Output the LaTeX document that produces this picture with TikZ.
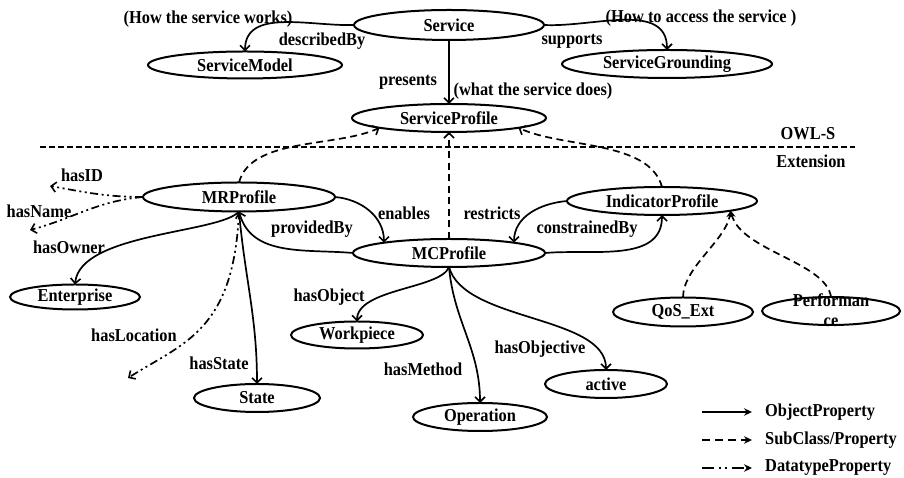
\documentclass[tikz,border=0pt]{standalone}
\usepackage{fontspec}
\setmainfont{Liberation Serif}[FakeStretch=0.9]
\usetikzlibrary{arrows.meta,shapes.geometric,calc}
\begin{document}
\begin{tikzpicture}[x=1pt,y=1pt,
  font=\fontsize{18.2}{21}\selectfont\bfseries,
  ell/.style={ellipse,draw,line width=2pt,inner sep=0pt,outer sep=0pt},
  lbl/.style={inner sep=0pt},
  obj/.style={line width=1.7pt,-{Straight Barb[length=5pt,width=10pt,line width=1.6pt]}},
  sub/.style={obj,dash pattern=on 7pt off 4.5pt},
  subT/.style={line width=1.7pt,dash pattern=on 7pt off 4.5pt,-{Stealth[length=7pt,width=6.5pt]}},
  dat/.style={obj,dash pattern=on 8pt off 3.5pt on 2pt off 3.5pt on 2pt off 3.5pt},
  legS/.style={line width=1.7pt,-{Stealth[length=8pt,width=7.5pt]}},
  legD/.style={legS,dash pattern=on 8pt off 5pt},
  legT/.style={legS,dash pattern=on 12pt off 4.5pt on 2pt off 4.5pt on 2pt off 4.5pt},
]
\useasboundingbox (0,0) rectangle (904,478);
\fill[white] (0,0) rectangle (904,478);

% nodes
\node[ell,minimum width=190pt,minimum height=30pt] (Service) at (449,453) {Service};
\node[ell,minimum width=194pt,minimum height=27pt] (ServiceModel) at (245,413) {ServiceModel};
\node[ell,minimum width=210pt,minimum height=28pt] (ServiceGrounding) at (667,414) {ServiceGrounding};
\node[ell,minimum width=194pt,minimum height=28pt] (ServiceProfile) at (449,360) {ServiceProfile};
\node[ell,minimum width=192pt,minimum height=29pt] (MRProfile) at (239,281) {MRProfile};
\node[ell,minimum width=190pt,minimum height=28pt] (IndicatorProfile) at (662,277) {IndicatorProfile};
\node[ell,minimum width=192pt,minimum height=28pt] (MCProfile) at (449,225) {MCProfile};
\node[ell,minimum width=130pt,minimum height=25pt] (Enterprise) at (75,181) {Enterprise};
\node[ell,minimum width=132pt,minimum height=27pt] (Workpiece) at (357,143) {Workpiece};
\node[ell,minimum width=140pt,minimum height=29pt] (QoS) at (683,166) {QoS\_Ext};
\node[ell,minimum width=138pt,minimum height=28pt] (Performance) at (831,167) {};
\node[lbl,anchor=base] (perfA) at (831,171) {Performan};
\node[lbl,anchor=base] (perfB) at (831,151) {ce};
\node[ell,minimum width=126pt,minimum height=28pt] (State) at (257,80) {State};
\node[ell,minimum width=134pt,minimum height=28pt] (Operation) at (480,61) {Operation};
\node[ell,minimum width=122pt,minimum height=28pt] (active) at (606,94) {active};

% free texts
\node[lbl] (t1) at (208,459) {(How the service works)};
\node[lbl] (t2) at (701,460) {(How to access the service )};
\node[lbl] (t3) at (533,387) {(what the service does)};
\node[lbl] (owl) at (808,344) {OWL-S};
\node[lbl] (ext) at (811,317) {Extension};

% edge labels
\node[lbl] at (322,437) {describedBy};
\node[lbl] at (572,437) {supports};
\node[lbl] at (408,396) {presents};
\node[lbl] at (82,303) {hasID};
\node[lbl] at (39,267) {hasName};
\node[lbl] at (69,231) {hasOwner};
\node[lbl] at (312,249) {providedBy};
\node[lbl] at (404,265) {enables};
\node[lbl] at (492,265) {restricts};
\node[lbl] at (587,249) {constrainedBy};
\node[lbl] at (329,181) {hasObject};
\node[lbl] at (134,143) {hasLocation};
\node[lbl] at (219,115) {hasState};
\node[lbl] at (423,109) {hasMethod};
\node[lbl] at (540,129) {hasObjective};

% separator
\coordinate (sepL) at (40,331);
\coordinate (sepR) at (855,331);
\draw[line width=1.5pt,dash pattern=on 6pt off 3pt] (sepL) -- (sepR);

% OWL-S edges
\draw[obj] (Service.west) to[out=182,in=90] (ServiceModel.north);
\draw[obj] (Service.east) to[out=-3,in=90] (ServiceGrounding.north);
\draw[obj] (Service.south) -- (ServiceProfile.north);

% subclass edges
\draw[sub] (MRProfile.north) to[out=75,in=205,looseness=0.8] (ServiceProfile.188);
\draw[sub] (MCProfile.north) -- (ServiceProfile.south);
\draw[sub] (IndicatorProfile.north) to[out=105,in=-25,looseness=0.8] (ServiceProfile.-8);

% profile relations
\draw[obj] (MRProfile.east) to[out=-5,in=90] (MCProfile.171);
\draw[obj] (MCProfile.west) to[out=175,in=-75] (MRProfile.south);
\draw[obj] (IndicatorProfile.west) to[out=185,in=90] (MCProfile.9);
\draw[obj] (MCProfile.east) to[out=5,in=-90] (IndicatorProfile.south);

% MRProfile properties
\draw[obj] (MRProfile.south) .. controls +(-19,-22) and +(5,52) .. (Enterprise.north);
\draw[obj] (MRProfile.south) to[out=-85,in=90] (State.north);
\coordinate (locEnd) at (128,100);
\draw[dat] (MRProfile.south) .. controls +(-5,-120) and +(55,35) .. (locEnd);
\coordinate (idEnd) at (50,292);
\coordinate (nameEnd) at (30,248);
\draw[dat] (MRProfile.west) to[out=180,in=-10] (idEnd);
\draw[dat] (MRProfile.west) to[out=185,in=15] (nameEnd);

% MCProfile properties
\draw[obj] (MCProfile.south) .. controls +(-8,-22) and +(0,33) .. (Workpiece.north);
\draw[obj] (MCProfile.south) to[out=-85,in=90] (Operation.north);
\draw[obj] (MCProfile.south) .. controls +(15,-55) and +(0,55) .. (active.north);

% indicator subclasses
\draw[subT] (QoS.north) .. controls +(0,30) and +(-5,-30) .. (IndicatorProfile.-8);
\draw[subT] (Performance.north) .. controls +(-5,35) and +(10,-40) .. (IndicatorProfile.-8);

% legend
\coordinate (l1a) at (702,66); \coordinate (l1b) at (752,66);
\coordinate (l2a) at (702,38); \coordinate (l2b) at (752,38);
\coordinate (l3a) at (702,10); \coordinate (l3b) at (752,10);
\draw[legS] (l1a) -- (l1b);
\draw[legD] (l2a) -- (l2b);
\draw[legT] (l3a) -- (l3b);
\node[lbl,anchor=west] at (765,66) {ObjectProperty};
\node[lbl,anchor=west] at (765,38) {SubClass/Property};
\node[lbl,anchor=west] at (765,10) {DatatypeProperty};
\end{tikzpicture}
\end{document}
